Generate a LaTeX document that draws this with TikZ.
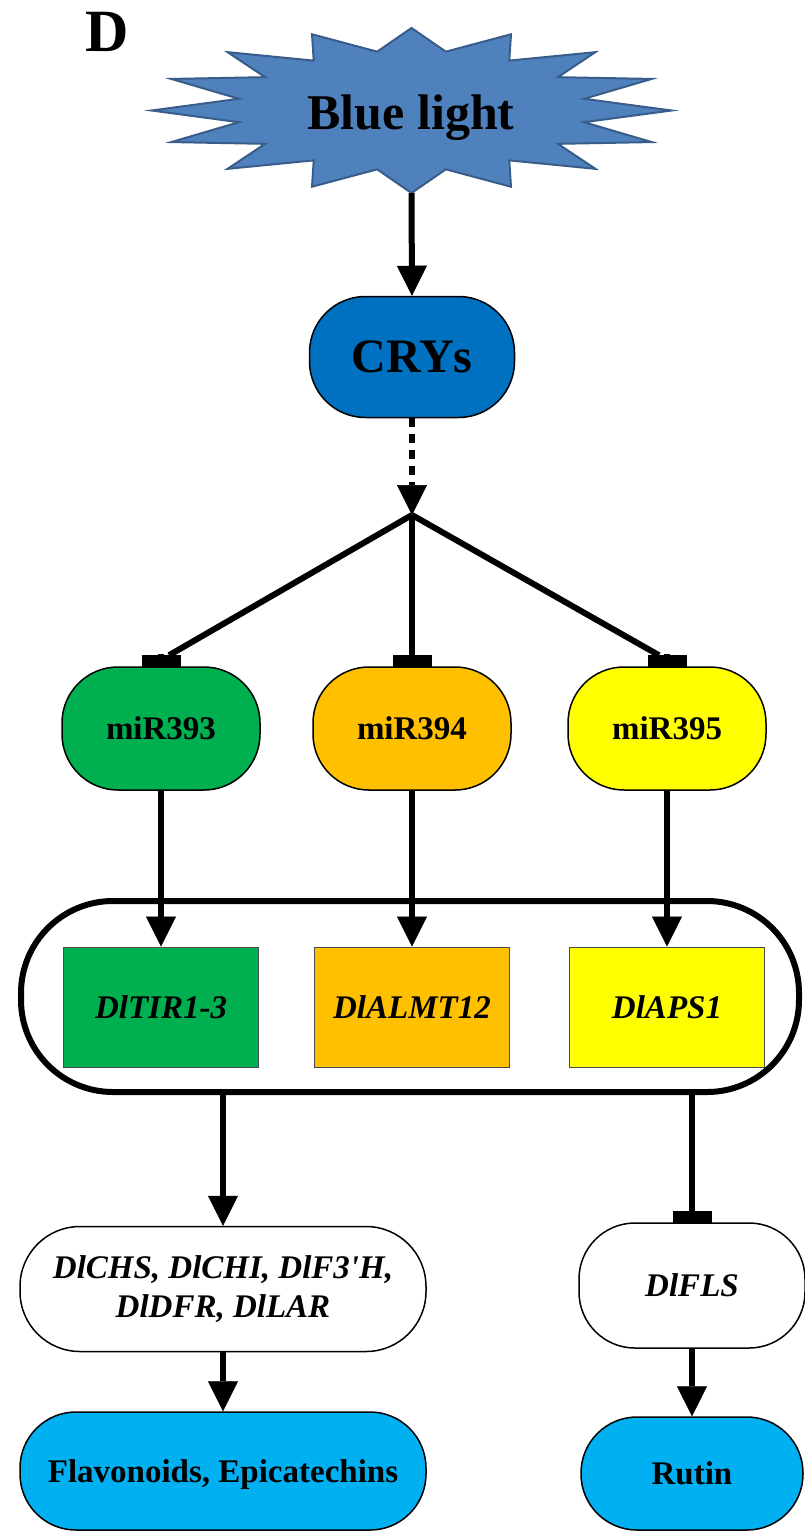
\documentclass[tikz,border=0pt]{standalone}
\usepackage{fontspec}
\setmainfont{Liberation Serif}
\usetikzlibrary{arrows.meta}
\definecolor{starfill}{RGB}{79,129,189}
\definecolor{starline}{RGB}{56,93,138}
\definecolor{crysblue}{RGB}{0,112,192}
\definecolor{mirgreen}{RGB}{0,176,80}
\definecolor{mirorange}{RGB}{255,192,0}
\definecolor{miryellow}{RGB}{255,255,0}
\definecolor{prodblue}{RGB}{0,176,240}
\begin{document}
\begin{tikzpicture}[x=1pt,y=-1pt]
    \tikzset{box/.style = {draw,line width=1.5pt,rounded corners=56pt,align=center,inner sep=0pt,font=\bfseries\fontsize{33}{38}\selectfont}}
    \tikzset{mir/.style = {box,minimum width=198pt,minimum height=123pt}}
    \tikzset{gene/.style = {draw=black!70,line width=1pt,inner sep=0pt,minimum width=195pt,minimum height=120pt,font=\bfseries\itshape\fontsize{33}{38}\selectfont}}
    \tikzset{edge/.style = {line width=6pt,-{Triangle[width=30pt,length=30pt,line width=0.5pt]}}}
    \tikzset{block/.style = {line width=6pt,-{Rectangle[width=39pt,length=11pt,line width=0.5pt]}}}
    \useasboundingbox (0,0) rectangle (804,1534);
    % panel letter and light source
    \node[font=\bfseries\fontsize{60}{62}\selectfont] (panel) at (107,32) {D};
    \draw[draw=starline,fill=starfill,line width=2pt] plot[samples at={0,...,31}, variable=\k]
        ({411.5+(mod(\k,2)==0 ? 260 : 176)*cos(\k*11.25)}, {110.5+(mod(\k,2)==0 ? 82.5 : 60)*sin(\k*11.25)}) -- cycle;
    \node[font=\bfseries\fontsize{50}{52}\selectfont,anchor=base] (light) at (411,129) {Blue light};
    \coordinate (burst) at (411.5,193);
    % receptor
    \node[box,fill=crysblue,minimum width=205pt,minimum height=121pt,font=\bfseries\fontsize{48}{50}\selectfont] (crys) at (412,357) {CRYs};
    \coordinate (fork) at (412,515);
    % microRNAs
    \node[mir,fill=mirgreen] (m393) at (161,728.5) {miR393};
    \node[mir,fill=mirorange] (m394) at (412,728.5) {miR394};
    \node[mir,fill=miryellow] (m395) at (667,728.5) {miR395};
    % target genes
    \node[draw,line width=6pt,rounded corners=92pt,minimum width=778pt,minimum height=191pt] (targets) at (410,996.5) {};
    \node[gene,fill=mirgreen] (tir) at (161,1007) {DlTIR1-3};
    \node[gene,fill=mirorange] (almt) at (412,1007) {DlALMT12};
    \node[gene,fill=miryellow] (aps) at (667,1007) {DlAPS1};
    % flavonoid genes and products
    \node[box,fill=white,rounded corners=60pt,minimum width=406pt,minimum height=125pt,font=\bfseries\itshape\fontsize{33}{39}\selectfont] (flav) at (223,1289) {DlCHS, DlCHI, DlF3\textquotesingle H,\\DlDFR, DlLAR\vphantom{,}};
    \node[box,fill=white,minimum width=226pt,minimum height=125pt,font=\bfseries\itshape\fontsize{33}{38}\selectfont] (fls) at (692,1285.5) {DlFLS};
    \node[box,fill=prodblue,text depth=0pt,minimum width=406pt,minimum height=118pt] (epi) at (223,1471) {Flavonoids, Epicatechins};
    \node[box,fill=prodblue,minimum width=222pt,minimum height=113pt] (rutin) at (692,1473.5) {Rutin};
    % edges
    \draw[edge] (burst) -- (crys.north);
    \draw[edge,dash pattern=on 9pt off 7pt] (crys.south) -- (fork);
    \draw[line width=6pt] (fork) -- ([xshift=8pt,yshift=11pt]m393.north);
    \draw[block] ([yshift=12pt]m393.north) -- (m393.north);
    \draw[block] (fork) -- (m394.north);
    \draw[line width=6pt] (fork) -- ([xshift=-8pt,yshift=11pt]m395.north);
    \draw[block] ([yshift=12pt]m395.north) -- (m395.north);
    \draw[edge] (m393.south) -- (tir.north);
    \draw[edge] (m394.south) -- (almt.north);
    \draw[edge] (m395.south) -- (aps.north);
    \draw[edge] (targets.south -| flav.north) -- (flav.north);
    \draw[block] (targets.south -| fls.north) -- (fls.north);
    \draw[edge] (flav.south) -- (epi.north);
    \draw[edge] (fls.south) -- (rutin.north);
\end{tikzpicture}
\end{document}
